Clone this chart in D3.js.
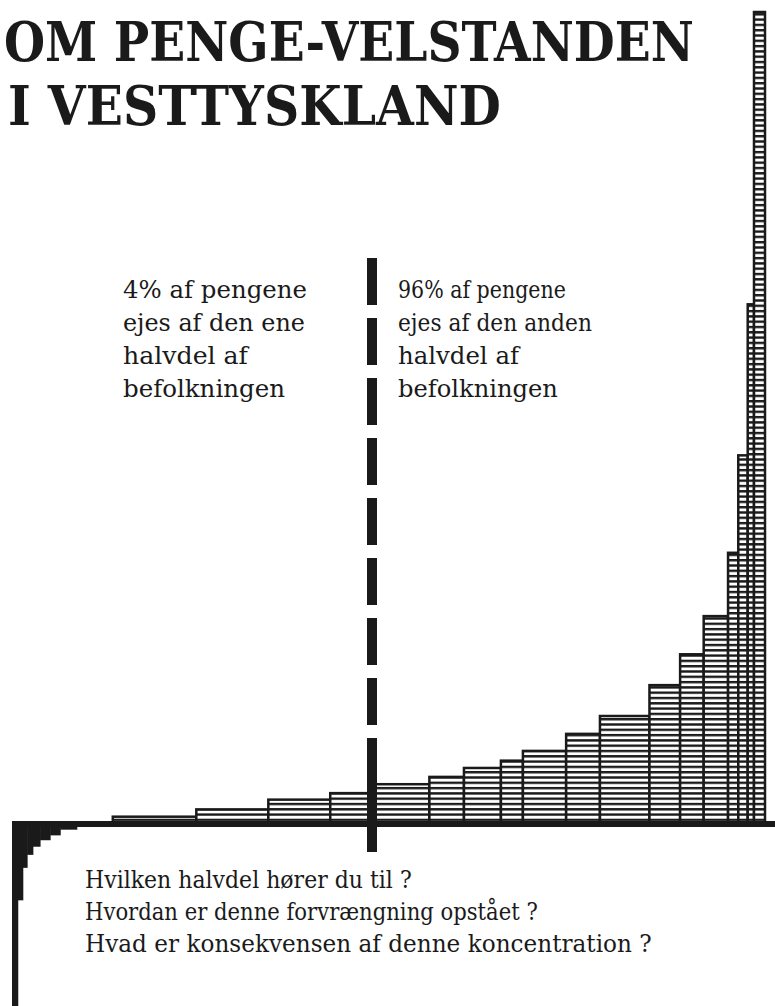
<!DOCTYPE html>
<html>
<head>
<meta charset="utf-8">
<script src="https://cdn.jsdelivr.net/npm/d3@7"></script>
<style>
  html, body { margin: 0; padding: 0; background: #fff; }
  svg { display: block; }
</style>
</head>
<body>
<script>
// ---- DATA ----
// Population groups (cumulative % of population, poorest to richest)
const popEdges = [0, 0.8, 1.5, 2.1, 2.9, 3.9, 5.3, 6.7, 9.0, 14.0, 25.6, 35.6, 44.2, 50,
                  57.3, 61.7, 66.4, 69.2, 74.7, 79.0, 85.3, 89.2, 92.2, 95.3, 96.6, 97.8, 98.6, 100];
// Money wealth per group (index, richest group = 100; negative = debt)
const wealth = [-24, -9.4, -5.4, -3.8, -2.8, -2.0, -1.4, -0.7, 0, 0.9, 1.8, 3.0, 3.8,
                4.9, 5.8, 6.9, 7.8, 9.0, 11.1, 13.3, 17.1, 20.9, 25.6, 33.4, 45.4, 64.0, 100];
const dividerAt = 50;
const titleLines = ["OM PENGE-VELSTANDEN", "I VESTTYSKLAND"];
const leftNote = ["4% af pengene", "ejes af den ene", "halvdel af", "befolkningen"];
const rightNote = ["96% af pengene", "ejes af den anden", "halvdel af", "befolkningen"];
const questions = ["Hvilken halvdel hører du til ?",
                   "Hvordan er denne forvrængning opstået ?",
                   "Hvad er konsekvensen af denne koncentration ?"];

// ---- LAYOUT ----
const W = 775, H = 1006;
const ink = "#1a1a1a";
const serif = "'DejaVu Serif', 'Liberation Serif', serif";

const svg = d3.select("body").append("svg").attr("width", W).attr("height", H);
svg.append("rect").attr("width", W).attr("height", H).attr("fill", "#fff");

const x = d3.scaleLinear().domain([0, 50, 100]).range([12, 372, 765]);
const y = d3.scaleLinear().domain([0, 100]).range([824, 12]);

const defs = svg.append("defs");
const pat = defs.append("pattern")
  .attr("id", "hatch")
  .attr("patternUnits", "userSpaceOnUse")
  .attr("width", 10).attr("height", 5.3)
  .attr("patternTransform", `translate(0,${y(0)})`);
pat.append("rect").attr("width", 10).attr("height", 5.3).attr("fill", "#fff");
pat.append("rect").attr("y", 0).attr("width", 10).attr("height", 2.4).attr("fill", ink);

const groups = wealth.map((w, i) => ({ x0: popEdges[i], x1: popEdges[i + 1], w }));

// positive bars (hatched)
svg.append("g").selectAll("rect")
  .data(groups.filter(d => d.w > 0))
  .join("rect")
  .attr("x", d => x(d.x0))
  .attr("width", d => x(d.x1) - x(d.x0))
  .attr("y", d => y(d.w))
  .attr("height", d => y(0) - y(d.w))
  .attr("fill", "url(#hatch)")
  .attr("stroke", ink)
  .attr("stroke-width", 2.5);

// negative bars (debt, solid)
svg.append("g").selectAll("rect")
  .data(groups.filter(d => d.w < 0))
  .join("rect")
  .attr("x", d => x(d.x0))
  .attr("width", d => x(d.x1) - x(d.x0) + 0.5)
  .attr("y", y(0))
  .attr("height", d => y(d.w) - y(0))
  .attr("fill", ink);

// baseline
svg.append("line")
  .attr("x1", x(0)).attr("x2", W)
  .attr("y1", y(0)).attr("y2", y(0))
  .attr("stroke", ink).attr("stroke-width", 6);

// divider at the median
const xd = x(dividerAt);
svg.append("line")
  .attr("x1", xd).attr("x2", xd)
  .attr("y1", 258).attr("y2", 785)
  .attr("stroke", ink).attr("stroke-width", 10)
  .attr("stroke-dasharray", "47,13");
svg.append("line")
  .attr("x1", xd).attr("x2", xd)
  .attr("y1", 784).attr("y2", 852)
  .attr("stroke", ink).attr("stroke-width", 10);

// helper: place text so that it spans a target width with a target em size
function fitText(sel, str, x0, y0, width, em, weight) {
  const t = sel.append("text")
    .attr("font-family", serif)
    .attr("font-weight", weight || "normal")
    .attr("font-size", em)
    .attr("fill", ink)
    .text(str);
  const natural = t.node().getComputedTextLength();
  const fs = em * width / natural;
  const sy = em / fs;
  t.attr("font-size", fs)
   .attr("transform", `translate(${x0},${y0}) scale(1,${sy})`);
  return t;
}

// title
const titleSpec = [{ x: 4, y: 61, len: 690 }, { x: 8, y: 125, len: 493 }];
const gTitle = svg.append("g");
titleLines.forEach((s, i) => fitText(gTitle, s, titleSpec[i].x, titleSpec[i].y, titleSpec[i].len, 54, "bold"));

// annotations
const noteY = [298, 331, 364, 397];
const leftLen = [184, 182, 125, 162];
const rightLen = [168, 194, 121, 160];
const gNotes = svg.append("g");
leftNote.forEach((s, i) => fitText(gNotes, s, 123, noteY[i], leftLen[i], 24));
rightNote.forEach((s, i) => fitText(gNotes, s, 398, noteY[i], rightLen[i], 24));

// questions
const qY = [888, 920, 952];
const qLen = [327, 453, 567];
const gQ = svg.append("g");
questions.forEach((s, i) => fitText(gQ, s, 85, qY[i], qLen[i], 24));
</script>
</body>
</html>
